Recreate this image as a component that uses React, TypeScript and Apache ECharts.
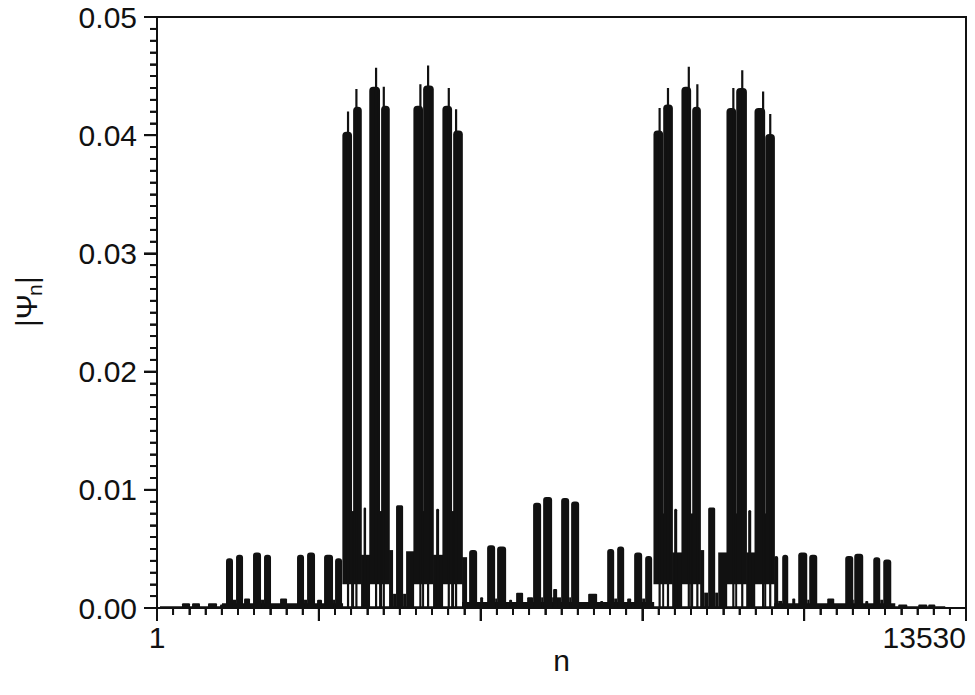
import React, { useEffect, useRef } from "react";
import * as echarts from "echarts";

const INK = "#111111";
const FONT = '"Liberation Sans", Arial, sans-serif';

// x axis (site index n) and y axis (|psi_n|) ranges and ticks
const X_MAX = 13530;
const X_TICK = 2706;
const Y_MAX = 0.05;
const Y_TICK = 0.01;
const MINOR_SPLIT = 10;
const X_LABELS: Record<number, string> = { 0: "1", 13530: "13530" };
const MINOR_LEN = 7;
const MAJOR_LEN = 13;

// tall peaks: [nStart, nEnd, body height, tip height, tip position n]
const bigPeaks: number[][] = [
  [3100, 3262, 0.0403, 0.042, 3195],
  [3280, 3425, 0.0424, 0.0439, 3335],
  [3550, 3730, 0.0441, 0.0457, 3664],
  [3748, 3893, 0.0425, 0.0441, 3793],
  [4288, 4449, 0.0425, 0.0443, 4405],
  [4451, 4629, 0.0442, 0.0459, 4534],
  [4773, 4935, 0.0425, 0.044, 4880],
  [4953, 5115, 0.0404, 0.0422, 5002],
  [8303, 8465, 0.0404, 0.0423, 8406],
  [8466, 8628, 0.0426, 0.044, 8546],
  [8771, 8933, 0.0441, 0.0458, 8894],
  [8951, 9096, 0.0424, 0.0443, 9037],
  [9524, 9686, 0.0423, 0.044, 9639],
  [9687, 9866, 0.044, 0.0455, 9788],
  [9993, 10171, 0.0423, 0.0437, 10137],
  [10173, 10334, 0.0401, 0.0418, 10256],
];
// top of the white window below each tall peak
const peakWindowTop = 0.002;

// filled gaps between the two peaks of a pair: [nStart, nEnd, height]
const pairGaps: number[][] = [
  [3246, 3296, 0.0082], [3714, 3764, 0.0082], [4433, 4467, 0.0082], [4919, 4969, 0.0082],
  [8449, 8482, 0.008], [8917, 8967, 0.008], [9670, 9703, 0.008], [10155, 10189, 0.008],
];

// dense low band inside the two big groups: [nStart, nEnd, height]
const denseBlocks: number[][] = [
  [3413, 3563, 0.0045], [3881, 3948, 0.0049], [3948, 3998, 0.0012], [4116, 4166, 0.0012],
  [4166, 4300, 0.0048], [4617, 4785, 0.0045], [5103, 5186, 0.0043],
  [8616, 8783, 0.0047], [9084, 9151, 0.0049], [9151, 9218, 0.0013], [9335, 9386, 0.0013],
  [9386, 9536, 0.0047], [9854, 10005, 0.0047],
];

// secondary spikes (~0.008) inside the big groups: [nStart, nEnd, height]
const midSpikes: number[][] = [
  [3455, 3497, 0.0085], [3998, 4116, 0.0087], [4668, 4718, 0.0084],
  [8649, 8700, 0.0084], [9218, 9335, 0.0085], [9887, 9938, 0.0083],
];

// central cluster (~0.009): [nStart, nEnd, height]
const centreBars: number[][] = [
  [6290, 6424, 0.0089], [6458, 6608, 0.0094], [6759, 6893, 0.0093], [6926, 7060, 0.009],
];

// small clusters (~0.0045): [nStart, nEnd, height]
const clusterBars: number[][] = [
  [1154, 1271, 0.0042], [1322, 1439, 0.0045], [1606, 1740, 0.0047], [1790, 1907, 0.0045],
  [2342, 2459, 0.0045], [2510, 2643, 0.0047], [2794, 2944, 0.0045], [2978, 3095, 0.0042],
  [5220, 5354, 0.0049], [5521, 5655, 0.0053], [5688, 5839, 0.0052],
  [7529, 7646, 0.005], [7696, 7813, 0.0052], [7980, 8114, 0.0047], [8164, 8281, 0.0044],
  [10322, 10389, 0.0044], [10456, 10557, 0.0045], [10724, 10875, 0.0047], [10908, 11042, 0.0045],
  [11510, 11644, 0.0044], [11661, 11811, 0.0046], [11979, 12096, 0.0043], [12146, 12280, 0.0041],
];

// little bumps near the baseline: [nStart, nEnd, height]
const bumps: number[][] = [
  [418, 552, 0.0004], [586, 719, 0.0004], [853, 1004, 0.0004], [1054, 1138, 0.0003],
  [1456, 1556, 0.0008], [2058, 2175, 0.0008], [2677, 2760, 0.0007],
  [5404, 5454, 0.0009], [5889, 5939, 0.0007], [6006, 6123, 0.0013], [6190, 6290, 0.0009],
  [6625, 6692, 0.0016], [7211, 7361, 0.0012], [7411, 7462, 0.0006], [7863, 7930, 0.0008],
  [10624, 10674, 0.0008], [11209, 11326, 0.0008], [11845, 11895, 0.0006],
  [12397, 12548, 0.0003], [12732, 12882, 0.0003], [12899, 13016, 0.0003],
];

// low floor levels: [nStart, nEnd, height]
const floors: number[][] = [
  [50, 13183, 0.00015], [1087, 3112, 0.0004], [5103, 8315, 0.0005], [10322, 12347, 0.0004],
  [1271, 1322, 0.0007], [1740, 1790, 0.0007], [2459, 2510, 0.0007], [2944, 2978, 0.0007],
  [5655, 5688, 0.0008], [6424, 6458, 0.0009], [6608, 6759, 0.0009], [6893, 6926, 0.0009],
  [7646, 7696, 0.0008], [8114, 8164, 0.0008], [10389, 10456, 0.0006], [10875, 10908, 0.0007],
  [11644, 11661, 0.0007], [12096, 12146, 0.0007],
];

// tick marks along the axes (axis structure, not data): [value, length]
const xTickMarks: number[][] = [];
const yTickMarks: number[][] = [];
for (let i = 0; i <= 5 * MINOR_SPLIT; i++) {
  const major = i % MINOR_SPLIT === 0;
  xTickMarks.push([(X_TICK / MINOR_SPLIT) * i, major ? MAJOR_LEN : MINOR_LEN]);
  yTickMarks.push([(Y_TICK / MINOR_SPLIT) * i, major ? MAJOR_LEN : MINOR_LEN]);
}

function rectSeries(data: number[][], round: number) {
  return {
    type: "custom",
    data,
    clip: true,
    silent: true,
    encode: { x: [0, 1], y: 2 },
    renderItem: (_p: any, api: any) => {
      const a = api.coord([api.value(0), api.value(2)]);
      const b = api.coord([api.value(1), 0]);
      const w = Math.max(b[0] - a[0], 1);
      const r = Math.min(round, w / 2);
      return {
        type: "rect",
        shape: { x: a[0], y: a[1], width: w, height: b[1] - a[1], r: r > 0 ? [r, r, 0, 0] : 0 },
        style: { fill: INK },
      };
    },
  };
}

function peakSeries() {
  return {
    type: "custom",
    data: bigPeaks,
    clip: true,
    silent: true,
    encode: { x: [0, 1], y: [2, 3] },
    renderItem: (_p: any, api: any) => {
      const a = api.coord([api.value(0), api.value(2)]);
      const b = api.coord([api.value(1), peakWindowTop]);
      const t = api.coord([api.value(4), api.value(3)]);
      const base = api.coord([api.value(4), 0]);
      const w = Math.max(b[0] - a[0], 1);
      return {
        type: "group",
        children: [
          {
            type: "rect",
            shape: { x: a[0], y: a[1], width: w, height: b[1] - a[1], r: [4, 4, 0, 0] },
            style: { fill: INK },
          },
          {
            type: "rect",
            shape: { x: t[0] - 1.1, y: t[1], width: 2.2, height: base[1] - t[1] },
            style: { fill: INK },
          },
        ],
      };
    },
  };
}

function tickSeries(data: number[][], horizontal: boolean) {
  return {
    type: "custom",
    data,
    clip: false,
    silent: true,
    encode: horizontal ? { x: 0 } : { y: 0 },
    renderItem: (_p: any, api: any) => {
      const v = api.value(0);
      const len = api.value(1);
      const p = horizontal ? api.coord([v, 0]) : api.coord([0, v]);
      const shape = horizontal
        ? { x1: p[0], y1: p[1], x2: p[0], y2: p[1] + len }
        : { x1: p[0] - len, y1: p[1], x2: p[0], y2: p[1] };
      return { type: "line", shape, style: { stroke: INK, lineWidth: len > MINOR_LEN ? 2 : 1.8 } };
    },
  };
}

export default function App() {
  const ref = useRef<HTMLDivElement>(null);
  useEffect(() => {
    if (!ref.current) return;
    const chart = echarts.init(ref.current, undefined, { renderer: "svg" });
    const labelStyle = { fontSize: 30, color: INK, fontFamily: FONT };
    chart.setOption({
      animation: false,
      backgroundColor: "#ffffff",
      grid: { left: 157, right: 9, top: 17, bottom: 87, show: true, borderColor: INK, borderWidth: 2 },
      xAxis: {
        type: "value",
        position: "bottom",
        min: 0,
        max: X_MAX,
        interval: X_TICK,
        name: "n",
        nameLocation: "middle",
        nameGap: 37,
        nameMoveOverlap: false,
        nameTextStyle: labelStyle,
        axisLine: { show: true, onZero: false, lineStyle: { color: INK, width: 2 } },
        axisTick: { show: true, length: MAJOR_LEN, lineStyle: { color: INK, width: 2 } },
        minorTick: { show: true, splitNumber: MINOR_SPLIT, length: MINOR_LEN, lineStyle: { color: INK, width: 1.8 } },
        splitLine: { show: false },
        axisLabel: {
          ...labelStyle,
          margin: 14,
          showMinLabel: true,
          showMaxLabel: true,
          alignMaxLabel: "right",
          formatter: (v: number) => X_LABELS[Math.round(v)] ?? "",
        },
      },
      yAxis: {
        type: "value",
        position: "left",
        min: 0,
        max: Y_MAX,
        interval: Y_TICK,
        axisLine: { show: true, onZero: false, lineStyle: { color: INK, width: 2 } },
        axisTick: { show: true, length: MAJOR_LEN, lineStyle: { color: INK, width: 2 } },
        minorTick: { show: true, splitNumber: MINOR_SPLIT, length: MINOR_LEN, lineStyle: { color: INK, width: 1.8 } },
        splitLine: { show: false },
        axisLabel: { ...labelStyle, margin: 20, formatter: (v: number) => v.toFixed(2) },
      },
      graphic: [
        {
          type: "group",
          x: 26,
          y: 300,
          rotation: Math.PI / 2,
          children: [
            {
              type: "text",
              x: -27,
              y: 0,
              style: { text: "|Ψ", fontSize: 30, fontFamily: FONT, fill: INK, align: "left", verticalAlign: "middle", textAlign: "left", textVerticalAlign: "middle" },
            },
            {
              type: "text",
              x: 4,
              y: 8,
              style: { text: "n", fontSize: 21, fontFamily: FONT, fill: INK, align: "left", verticalAlign: "middle", textAlign: "left", textVerticalAlign: "middle" },
            },
            {
              type: "text",
              x: 16,
              y: 0,
              style: { text: "|", fontSize: 30, fontFamily: FONT, fill: INK, align: "left", verticalAlign: "middle", textAlign: "left", textVerticalAlign: "middle" },
            },
          ],
        },
      ],
      series: [
        rectSeries(floors, 0),
        rectSeries(bumps, 1),
        rectSeries(clusterBars, 3),
        rectSeries(centreBars, 3),
        rectSeries(denseBlocks, 0),
        rectSeries(pairGaps, 0),
        rectSeries(midSpikes, 1.5),
        peakSeries(),
        tickSeries(xTickMarks, true),
        tickSeries(yTickMarks, false),
      ],
    });
    return () => chart.dispose();
  }, []);
  return (
    <div
      ref={ref}
      style={{ position: "fixed", left: 0, top: 0, width: 975, height: 695, background: "#fff" }}
    />
  );
}
